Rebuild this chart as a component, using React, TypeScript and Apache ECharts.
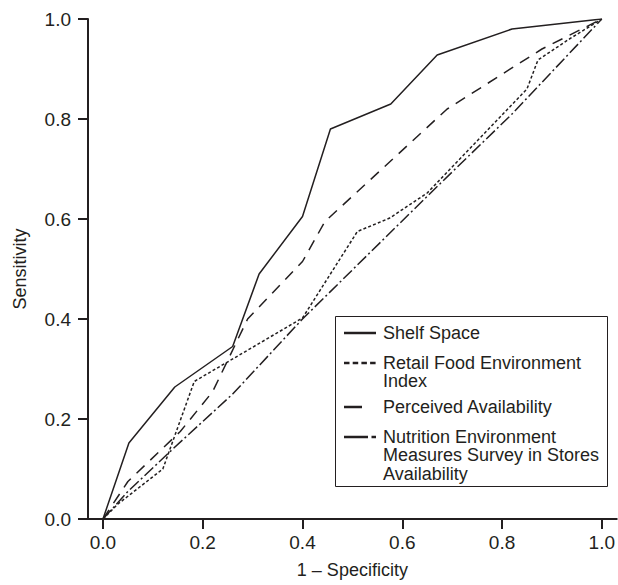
import React, { useEffect, useRef } from "react";
import * as echarts from "echarts";

// ---- data ----
const seriesNames = [
  "Shelf Space",
  "Retail Food Environment Index",
  "Perceived Availability",
  "Nutrition Environment Measures Survey in Stores Availability",
];
const legendLabels = [
  "Shelf Space",
  "Retail Food Environment\nIndex",
  "Perceived Availability",
  "Nutrition Environment\nMeasures Survey in Stores\nAvailability",
];

const shelfX = [0, 0.052, 0.144, 0.26, 0.313, 0.4, 0.456, 0.577, 0.67, 0.82, 1.0];
const shelfY = [0, 0.152, 0.264, 0.345, 0.49, 0.605, 0.78, 0.83, 0.928, 0.98, 1.0];

const retailX = [0, 0.03, 0.12, 0.183, 0.4, 0.51, 0.575, 0.65, 0.85, 0.872, 0.935, 1.0];
const retailY = [0, 0.03, 0.1, 0.275, 0.402, 0.575, 0.602, 0.652, 0.86, 0.918, 0.96, 1.0];

const perceivedX = [0, 0.05, 0.155, 0.22, 0.29, 0.4, 0.445, 0.69, 0.88, 1.0];
const perceivedY = [0, 0.075, 0.175, 0.255, 0.4, 0.515, 0.595, 0.82, 0.94, 1.0];

const nemsX = [0, 0.05, 0.14, 0.26, 0.4, 0.67, 0.82, 1.0];
const nemsY = [0, 0.055, 0.14, 0.25, 0.4, 0.665, 0.81, 1.0];

const xTicks = [0, 0.2, 0.4, 0.6, 0.8, 1.0];

const INK = "#231f20";
const FONT = "'Liberation Sans', Arial, Helvetica, sans-serif";

const pairs = (xs: number[], ys: number[]) => xs.map((x, i) => [x, ys[i]]);

const seriesXs = [shelfX, retailX, perceivedX, nemsX];
const seriesYs = [shelfY, retailY, perceivedY, nemsY];
const seriesDash: (number[] | string)[] = ["solid", [3, 2.2], [11, 8], [12, 3, 2, 3]];

export default function App() {
  const ref = useRef<HTMLDivElement>(null);

  useEffect(() => {
    if (!ref.current) return;
    const chart = echarts.init(ref.current, undefined, { renderer: "svg" });

    // legend drawn as graphic (box, samples, texts)
    const legendRowsY = [333, 363, 407, 437];
    const sampleX1 = 344;
    const sampleX2 = [376, 376, 362, 376];
    const sampleDash: (number[] | null)[] = [null, [5.5, 3.2], null, [24, 3.5, 4.5, 10]];
    const lineH = 18.3;
    const legendGraphics: any[] = [
      {
        type: "rect",
        shape: { x: 335.5, y: 316.5, width: 272, height: 170 },
        style: { fill: "#fff", stroke: INK, lineWidth: 1 },
        z: 10,
      },
    ];
    legendLabels.forEach((label, i) => {
      legendGraphics.push({
        type: "line",
        shape: { x1: sampleX1, y1: legendRowsY[i], x2: sampleX2[i], y2: legendRowsY[i] },
        style: {
          stroke: INK,
          lineWidth: 2.5,
          lineDash: sampleDash[i] || undefined,
        },
        z: 11,
      });
      legendGraphics.push({
        type: "text",
        x: 383,
        y: legendRowsY[i] - lineH / 2,
        style: {
          text: label,
          fill: INK,
          font: `18px ${FONT}`,
          fontSize: 18,
          fontFamily: FONT,
          lineHeight: lineH,
          textAlign: "left",
          textVerticalAlign: "top",
          verticalAlign: "top",
        },
        z: 11,
      });
    });

    chart.setOption({
      animation: false,
      backgroundColor: "#fff",
      textStyle: { fontFamily: FONT, color: INK },
      grid: { left: 88, right: 0, top: 19, bottom: 66, containLabel: false },
      xAxis: {
        type: "value",
        min: -0.03,
        max: 1.03,
        name: "1 – Specificity",
        nameLocation: "middle",
        nameGap: 42,
        nameTextStyle: { fontSize: 18, color: INK, fontFamily: FONT },
        axisLine: { onZero: false, lineStyle: { color: INK, width: 2 } },
        axisTick: {
          show: true,
          length: 10,
          inside: false,
          customValues: xTicks,
          lineStyle: { color: INK, width: 2 },
        },
        axisLabel: {
          customValues: xTicks,
          formatter: (v: number) => v.toFixed(1),
          fontSize: 19,
          color: INK,
          fontFamily: FONT,
          margin: 14,
        },
        splitLine: { show: false },
      },
      yAxis: {
        type: "value",
        min: 0,
        max: 1,
        interval: 0.2,
        name: "Sensitivity",
        nameLocation: "middle",
        nameGap: 59,
        nameRotate: 90,
        nameTextStyle: { fontSize: 18, color: INK, fontFamily: FONT },
        axisLine: { show: true, onZero: false, lineStyle: { color: INK, width: 2 } },
        axisTick: { show: true, length: 10, lineStyle: { color: INK, width: 2 } },
        axisLabel: {
          formatter: (v: number) => v.toFixed(1),
          fontSize: 19,
          color: INK,
          fontFamily: FONT,
          margin: 17,
        },
        splitLine: { show: false },
      },
      series: seriesNames.map((name, i) => ({
        name,
        type: "line",
        data: pairs(seriesXs[i], seriesYs[i]),
        symbol: "none",
        silent: true,
        lineStyle: { color: INK, width: 1.5, type: seriesDash[i] },
      })),
      graphic: legendGraphics,
    });

    return () => chart.dispose();
  }, []);

  return (
    <div
      ref={ref}
      style={{ position: "absolute", left: 0, top: 0, width: 618, height: 585, background: "#fff" }}
    />
  );
}
